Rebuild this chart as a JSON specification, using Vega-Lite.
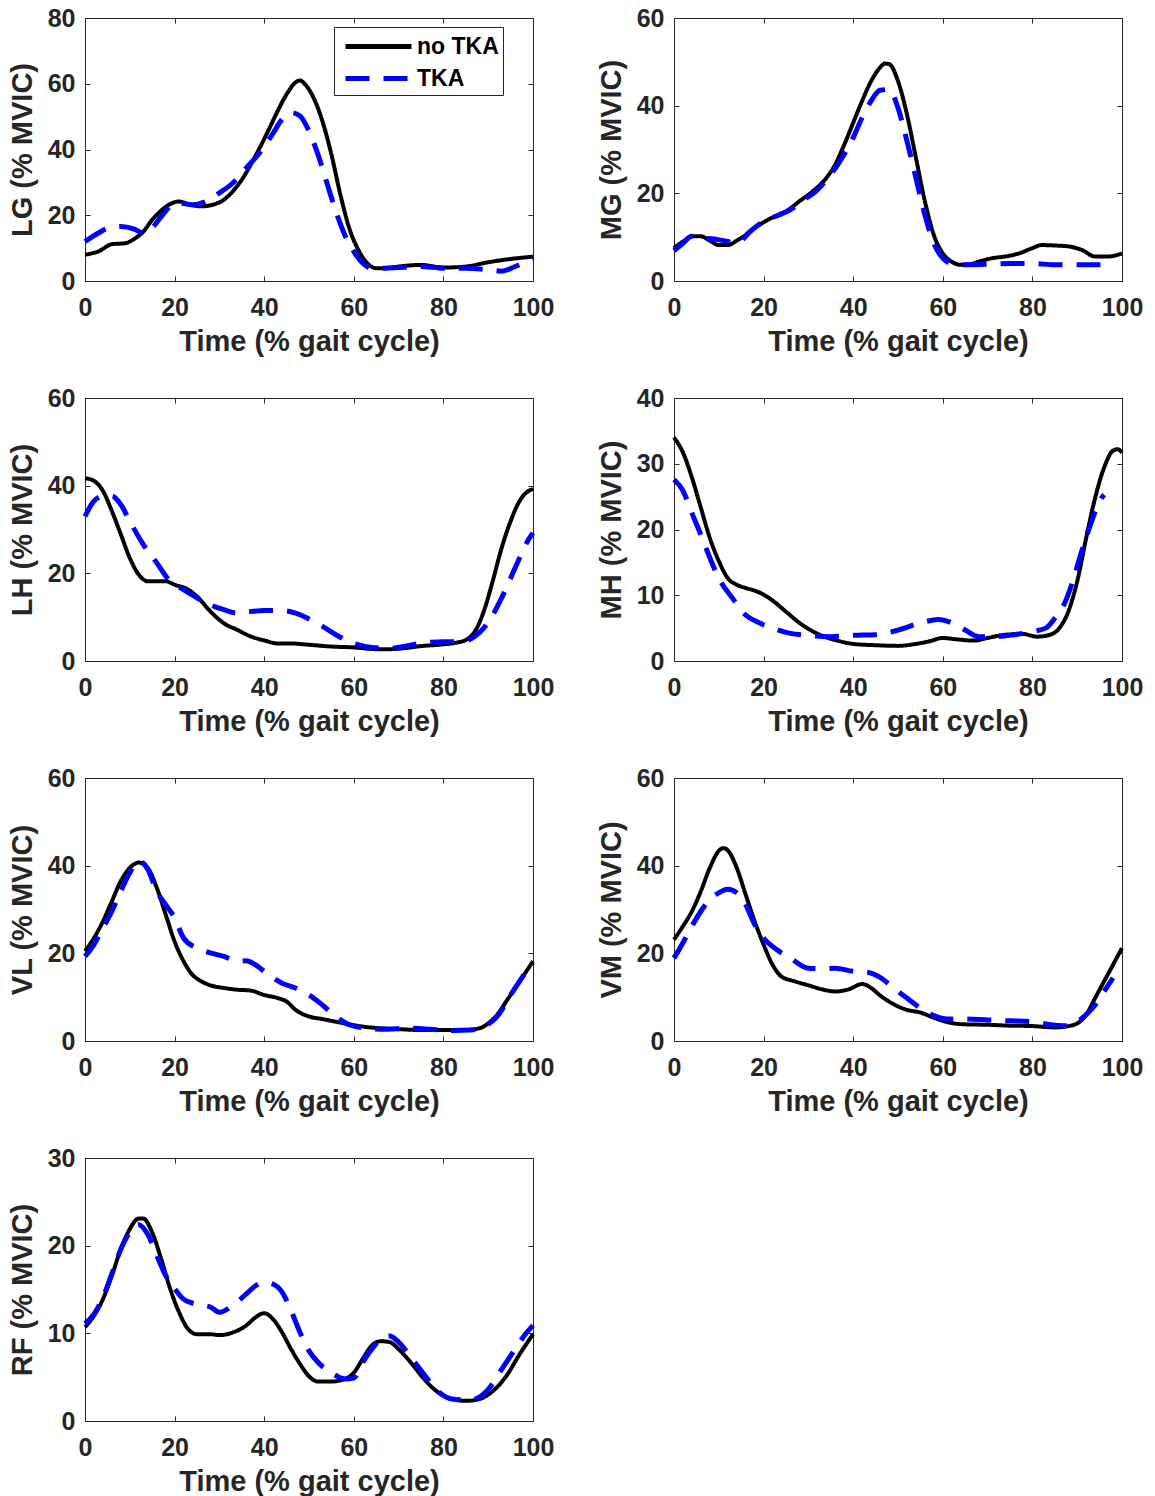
{
  "$schema": "https://vega.github.io/schema/vega-lite/v6.json",
  "background": "white",
  "padding": {"left": 7, "top": 5, "right": 5, "bottom": 2},
  "datasets": {
    "emg": [
      {"m":"LG","g":"no TKA","t":0,"v":8},{"m":"LG","g":"no TKA","t":3,"v":9},{"m":"LG","g":"no TKA","t":6,"v":11.2},{"m":"LG","g":"no TKA","t":9,"v":11.5},{"m":"LG","g":"no TKA","t":11,"v":12.8},{"m":"LG","g":"no TKA","t":13,"v":15},{"m":"LG","g":"no TKA","t":15,"v":18.6},{"m":"LG","g":"no TKA","t":17,"v":21.4},{"m":"LG","g":"no TKA","t":19,"v":23.4},{"m":"LG","g":"no TKA","t":21,"v":24.2},{"m":"LG","g":"no TKA","t":23,"v":23.4},{"m":"LG","g":"no TKA","t":26,"v":22.7},{"m":"LG","g":"no TKA","t":29,"v":23.4},{"m":"LG","g":"no TKA","t":31,"v":24.7},{"m":"LG","g":"no TKA","t":33,"v":27.3},{"m":"LG","g":"no TKA","t":35,"v":30.8},{"m":"LG","g":"no TKA","t":37,"v":35.4},{"m":"LG","g":"no TKA","t":39,"v":40.5},{"m":"LG","g":"no TKA","t":41,"v":46},{"m":"LG","g":"no TKA","t":43,"v":51.7},{"m":"LG","g":"no TKA","t":45,"v":56.8},{"m":"LG","g":"no TKA","t":47,"v":60.4},{"m":"LG","g":"no TKA","t":48,"v":61},{"m":"LG","g":"no TKA","t":49,"v":60},{"m":"LG","g":"no TKA","t":51,"v":55.8},{"m":"LG","g":"no TKA","t":53,"v":48.6},{"m":"LG","g":"no TKA","t":55,"v":38.5},{"m":"LG","g":"no TKA","t":57,"v":26.3},{"m":"LG","g":"no TKA","t":59,"v":16},{"m":"LG","g":"no TKA","t":61,"v":9.5},{"m":"LG","g":"no TKA","t":63,"v":5.4},{"m":"LG","g":"no TKA","t":65,"v":3.9},{"m":"LG","g":"no TKA","t":67,"v":3.9},{"m":"LG","g":"no TKA","t":70,"v":4.4},{"m":"LG","g":"no TKA","t":75,"v":4.9},{"m":"LG","g":"no TKA","t":80,"v":4.1},{"m":"LG","g":"no TKA","t":85,"v":4.4},{"m":"LG","g":"no TKA","t":90,"v":5.7},{"m":"LG","g":"no TKA","t":95,"v":6.7},{"m":"LG","g":"no TKA","t":100,"v":7.4},
      {"m":"LG","g":"TKA","t":0,"v":12},{"m":"LG","g":"TKA","t":3,"v":14.6},{"m":"LG","g":"TKA","t":5,"v":16},{"m":"LG","g":"TKA","t":8,"v":16.6},{"m":"LG","g":"TKA","t":11,"v":15.8},{"m":"LG","g":"TKA","t":13,"v":14.6},{"m":"LG","g":"TKA","t":15,"v":16.2},{"m":"LG","g":"TKA","t":17,"v":19.6},{"m":"LG","g":"TKA","t":19,"v":22.7},{"m":"LG","g":"TKA","t":21,"v":23.7},{"m":"LG","g":"TKA","t":24,"v":23.2},{"m":"LG","g":"TKA","t":27,"v":24.2},{"m":"LG","g":"TKA","t":30,"v":26.8},{"m":"LG","g":"TKA","t":33,"v":29.8},{"m":"LG","g":"TKA","t":36,"v":34.4},{"m":"LG","g":"TKA","t":39,"v":39},{"m":"LG","g":"TKA","t":42,"v":45},{"m":"LG","g":"TKA","t":44,"v":49.2},{"m":"LG","g":"TKA","t":46,"v":51.2},{"m":"LG","g":"TKA","t":48,"v":50.2},{"m":"LG","g":"TKA","t":50,"v":45.6},{"m":"LG","g":"TKA","t":52,"v":38.5},{"m":"LG","g":"TKA","t":54,"v":29.8},{"m":"LG","g":"TKA","t":56,"v":21.2},{"m":"LG","g":"TKA","t":58,"v":14},{"m":"LG","g":"TKA","t":60,"v":9},{"m":"LG","g":"TKA","t":62,"v":5.4},{"m":"LG","g":"TKA","t":64,"v":3.9},{"m":"LG","g":"TKA","t":67,"v":3.9},{"m":"LG","g":"TKA","t":70,"v":4.1},{"m":"LG","g":"TKA","t":75,"v":4.4},{"m":"LG","g":"TKA","t":80,"v":3.9},{"m":"LG","g":"TKA","t":85,"v":3.9},{"m":"LG","g":"TKA","t":90,"v":3.4},{"m":"LG","g":"TKA","t":93,"v":3},{"m":"LG","g":"TKA","t":96,"v":4.4},{"m":"LG","g":"TKA","t":100,"v":6.9},

      {"m":"MG","g":"no TKA","t":0,"v":7.5},{"m":"MG","g":"no TKA","t":2,"v":9},{"m":"MG","g":"no TKA","t":4,"v":10.2},{"m":"MG","g":"no TKA","t":6,"v":10.2},{"m":"MG","g":"no TKA","t":8,"v":9.2},{"m":"MG","g":"no TKA","t":10,"v":8.2},{"m":"MG","g":"no TKA","t":12,"v":8.2},{"m":"MG","g":"no TKA","t":14,"v":9.2},{"m":"MG","g":"no TKA","t":16,"v":10.5},{"m":"MG","g":"no TKA","t":18,"v":12.1},{"m":"MG","g":"no TKA","t":20,"v":13.4},{"m":"MG","g":"no TKA","t":22,"v":14.5},{"m":"MG","g":"no TKA","t":25,"v":15.9},{"m":"MG","g":"no TKA","t":28,"v":18.2},{"m":"MG","g":"no TKA","t":31,"v":20.5},{"m":"MG","g":"no TKA","t":34,"v":23.5},{"m":"MG","g":"no TKA","t":36,"v":26.6},{"m":"MG","g":"no TKA","t":38,"v":31.1},{"m":"MG","g":"no TKA","t":40,"v":36.1},{"m":"MG","g":"no TKA","t":42,"v":41.1},{"m":"MG","g":"no TKA","t":44,"v":45.6},{"m":"MG","g":"no TKA","t":46,"v":48.7},{"m":"MG","g":"no TKA","t":47,"v":49.6},{"m":"MG","g":"no TKA","t":48,"v":49.5},{"m":"MG","g":"no TKA","t":50,"v":45.6},{"m":"MG","g":"no TKA","t":52,"v":38},{"m":"MG","g":"no TKA","t":54,"v":28.1},{"m":"MG","g":"no TKA","t":56,"v":18.2},{"m":"MG","g":"no TKA","t":58,"v":10.5},{"m":"MG","g":"no TKA","t":60,"v":6.3},{"m":"MG","g":"no TKA","t":62,"v":4.4},{"m":"MG","g":"no TKA","t":64,"v":3.7},{"m":"MG","g":"no TKA","t":66,"v":3.8},{"m":"MG","g":"no TKA","t":68,"v":4.4},{"m":"MG","g":"no TKA","t":71,"v":5.2},{"m":"MG","g":"no TKA","t":74,"v":5.6},{"m":"MG","g":"no TKA","t":77,"v":6.3},{"m":"MG","g":"no TKA","t":80,"v":7.5},{"m":"MG","g":"no TKA","t":82,"v":8.2},{"m":"MG","g":"no TKA","t":85,"v":8.1},{"m":"MG","g":"no TKA","t":88,"v":7.9},{"m":"MG","g":"no TKA","t":91,"v":7.1},{"m":"MG","g":"no TKA","t":94,"v":5.6},{"m":"MG","g":"no TKA","t":97,"v":5.6},{"m":"MG","g":"no TKA","t":100,"v":6.3},
      {"m":"MG","g":"TKA","t":0,"v":6.9},{"m":"MG","g":"TKA","t":2,"v":8.6},{"m":"MG","g":"TKA","t":4,"v":10.2},{"m":"MG","g":"TKA","t":6,"v":9.8},{"m":"MG","g":"TKA","t":9,"v":9.6},{"m":"MG","g":"TKA","t":12,"v":9},{"m":"MG","g":"TKA","t":14,"v":8.6},{"m":"MG","g":"TKA","t":17,"v":11.3},{"m":"MG","g":"TKA","t":20,"v":13.6},{"m":"MG","g":"TKA","t":23,"v":14.9},{"m":"MG","g":"TKA","t":26,"v":16.3},{"m":"MG","g":"TKA","t":29,"v":18.5},{"m":"MG","g":"TKA","t":32,"v":20.8},{"m":"MG","g":"TKA","t":35,"v":24.3},{"m":"MG","g":"TKA","t":38,"v":28.9},{"m":"MG","g":"TKA","t":40,"v":32.7},{"m":"MG","g":"TKA","t":42,"v":37.3},{"m":"MG","g":"TKA","t":44,"v":41.1},{"m":"MG","g":"TKA","t":46,"v":43.5},{"m":"MG","g":"TKA","t":48,"v":43.7},{"m":"MG","g":"TKA","t":50,"v":39.5},{"m":"MG","g":"TKA","t":52,"v":31.9},{"m":"MG","g":"TKA","t":54,"v":23.5},{"m":"MG","g":"TKA","t":56,"v":15.1},{"m":"MG","g":"TKA","t":58,"v":8.6},{"m":"MG","g":"TKA","t":60,"v":5.2},{"m":"MG","g":"TKA","t":62,"v":4},{"m":"MG","g":"TKA","t":65,"v":3.7},{"m":"MG","g":"TKA","t":70,"v":3.8},{"m":"MG","g":"TKA","t":75,"v":4},{"m":"MG","g":"TKA","t":80,"v":4},{"m":"MG","g":"TKA","t":85,"v":3.7},{"m":"MG","g":"TKA","t":90,"v":3.7},{"m":"MG","g":"TKA","t":95,"v":3.7},{"m":"MG","g":"TKA","t":97,"v":4},

      {"m":"LH","g":"no TKA","t":0,"v":41.7},{"m":"LH","g":"no TKA","t":2,"v":41.1},{"m":"LH","g":"no TKA","t":4,"v":38.8},{"m":"LH","g":"no TKA","t":6,"v":34.2},{"m":"LH","g":"no TKA","t":8,"v":28.9},{"m":"LH","g":"no TKA","t":10,"v":23.5},{"m":"LH","g":"no TKA","t":12,"v":19.7},{"m":"LH","g":"no TKA","t":14,"v":18.2},{"m":"LH","g":"no TKA","t":16,"v":18.2},{"m":"LH","g":"no TKA","t":18,"v":18.2},{"m":"LH","g":"no TKA","t":20,"v":17.4},{"m":"LH","g":"no TKA","t":23,"v":16.3},{"m":"LH","g":"no TKA","t":25,"v":14.7},{"m":"LH","g":"no TKA","t":28,"v":11.3},{"m":"LH","g":"no TKA","t":31,"v":8.6},{"m":"LH","g":"no TKA","t":34,"v":7.1},{"m":"LH","g":"no TKA","t":37,"v":5.6},{"m":"LH","g":"no TKA","t":40,"v":4.7},{"m":"LH","g":"no TKA","t":43,"v":4},{"m":"LH","g":"no TKA","t":46,"v":4},{"m":"LH","g":"no TKA","t":50,"v":3.7},{"m":"LH","g":"no TKA","t":55,"v":3.3},{"m":"LH","g":"no TKA","t":60,"v":3.1},{"m":"LH","g":"no TKA","t":65,"v":2.7},{"m":"LH","g":"no TKA","t":68,"v":2.7},{"m":"LH","g":"no TKA","t":71,"v":2.9},{"m":"LH","g":"no TKA","t":75,"v":3.4},{"m":"LH","g":"no TKA","t":80,"v":3.8},{"m":"LH","g":"no TKA","t":83,"v":4.2},{"m":"LH","g":"no TKA","t":85,"v":4.8},{"m":"LH","g":"no TKA","t":87,"v":6.7},{"m":"LH","g":"no TKA","t":89,"v":11.3},{"m":"LH","g":"no TKA","t":91,"v":18.2},{"m":"LH","g":"no TKA","t":93,"v":25.8},{"m":"LH","g":"no TKA","t":95,"v":31.9},{"m":"LH","g":"no TKA","t":97,"v":36.5},{"m":"LH","g":"no TKA","t":99,"v":38.8},{"m":"LH","g":"no TKA","t":100,"v":39.2},
      {"m":"LH","g":"TKA","t":0,"v":33},{"m":"LH","g":"TKA","t":2,"v":36.5},{"m":"LH","g":"TKA","t":4,"v":37.6},{"m":"LH","g":"TKA","t":6,"v":37.6},{"m":"LH","g":"TKA","t":8,"v":35.7},{"m":"LH","g":"TKA","t":10,"v":31.9},{"m":"LH","g":"TKA","t":13,"v":26.6},{"m":"LH","g":"TKA","t":16,"v":22.4},{"m":"LH","g":"TKA","t":19,"v":18.2},{"m":"LH","g":"TKA","t":22,"v":16.3},{"m":"LH","g":"TKA","t":25,"v":14.4},{"m":"LH","g":"TKA","t":28,"v":12.8},{"m":"LH","g":"TKA","t":31,"v":11.7},{"m":"LH","g":"TKA","t":34,"v":10.9},{"m":"LH","g":"TKA","t":37,"v":11.3},{"m":"LH","g":"TKA","t":40,"v":11.5},{"m":"LH","g":"TKA","t":44,"v":11.5},{"m":"LH","g":"TKA","t":47,"v":10.9},{"m":"LH","g":"TKA","t":50,"v":9.6},{"m":"LH","g":"TKA","t":53,"v":7.9},{"m":"LH","g":"TKA","t":56,"v":6},{"m":"LH","g":"TKA","t":60,"v":4},{"m":"LH","g":"TKA","t":64,"v":3.1},{"m":"LH","g":"TKA","t":68,"v":2.9},{"m":"LH","g":"TKA","t":72,"v":3.5},{"m":"LH","g":"TKA","t":76,"v":4.2},{"m":"LH","g":"TKA","t":80,"v":4.4},{"m":"LH","g":"TKA","t":84,"v":4.4},{"m":"LH","g":"TKA","t":87,"v":5.6},{"m":"LH","g":"TKA","t":89,"v":7.5},{"m":"LH","g":"TKA","t":91,"v":10.5},{"m":"LH","g":"TKA","t":93,"v":14.4},{"m":"LH","g":"TKA","t":95,"v":18.9},{"m":"LH","g":"TKA","t":97,"v":23.5},{"m":"LH","g":"TKA","t":99,"v":27.7},{"m":"LH","g":"TKA","t":100,"v":29.2},

      {"m":"MH","g":"no TKA","t":0,"v":34},{"m":"MH","g":"no TKA","t":2,"v":31.7},{"m":"MH","g":"no TKA","t":4,"v":27.9},{"m":"MH","g":"no TKA","t":6,"v":23.3},{"m":"MH","g":"no TKA","t":8,"v":18.7},{"m":"MH","g":"no TKA","t":10,"v":15.2},{"m":"MH","g":"no TKA","t":12,"v":12.6},{"m":"MH","g":"no TKA","t":14,"v":11.6},{"m":"MH","g":"no TKA","t":16,"v":11.1},{"m":"MH","g":"no TKA","t":18,"v":10.7},{"m":"MH","g":"no TKA","t":20,"v":10.1},{"m":"MH","g":"no TKA","t":22,"v":9.2},{"m":"MH","g":"no TKA","t":25,"v":7.5},{"m":"MH","g":"no TKA","t":28,"v":5.8},{"m":"MH","g":"no TKA","t":31,"v":4.5},{"m":"MH","g":"no TKA","t":34,"v":3.6},{"m":"MH","g":"no TKA","t":37,"v":3},{"m":"MH","g":"no TKA","t":40,"v":2.6},{"m":"MH","g":"no TKA","t":45,"v":2.4},{"m":"MH","g":"no TKA","t":50,"v":2.3},{"m":"MH","g":"no TKA","t":54,"v":2.6},{"m":"MH","g":"no TKA","t":57,"v":3},{"m":"MH","g":"no TKA","t":60,"v":3.5},{"m":"MH","g":"no TKA","t":63,"v":3.3},{"m":"MH","g":"no TKA","t":67,"v":3.1},{"m":"MH","g":"no TKA","t":70,"v":3.5},{"m":"MH","g":"no TKA","t":74,"v":4},{"m":"MH","g":"no TKA","t":78,"v":4.1},{"m":"MH","g":"no TKA","t":81,"v":3.7},{"m":"MH","g":"no TKA","t":84,"v":4},{"m":"MH","g":"no TKA","t":86,"v":5},{"m":"MH","g":"no TKA","t":88,"v":7.5},{"m":"MH","g":"no TKA","t":90,"v":12.1},{"m":"MH","g":"no TKA","t":92,"v":18.7},{"m":"MH","g":"no TKA","t":94,"v":24.8},{"m":"MH","g":"no TKA","t":96,"v":29.4},{"m":"MH","g":"no TKA","t":98,"v":32},{"m":"MH","g":"no TKA","t":99,"v":32.2},{"m":"MH","g":"no TKA","t":100,"v":31.7},
      {"m":"MH","g":"TKA","t":0,"v":27.6},{"m":"MH","g":"TKA","t":2,"v":25.9},{"m":"MH","g":"TKA","t":4,"v":22.5},{"m":"MH","g":"TKA","t":6,"v":19.2},{"m":"MH","g":"TKA","t":8,"v":15.7},{"m":"MH","g":"TKA","t":10,"v":12.6},{"m":"MH","g":"TKA","t":13,"v":9.6},{"m":"MH","g":"TKA","t":16,"v":7},{"m":"MH","g":"TKA","t":19,"v":5.8},{"m":"MH","g":"TKA","t":22,"v":5},{"m":"MH","g":"TKA","t":26,"v":4.2},{"m":"MH","g":"TKA","t":30,"v":3.9},{"m":"MH","g":"TKA","t":35,"v":3.7},{"m":"MH","g":"TKA","t":40,"v":3.9},{"m":"MH","g":"TKA","t":45,"v":4},{"m":"MH","g":"TKA","t":50,"v":4.7},{"m":"MH","g":"TKA","t":55,"v":5.8},{"m":"MH","g":"TKA","t":59,"v":6.3},{"m":"MH","g":"TKA","t":62,"v":5.8},{"m":"MH","g":"TKA","t":65,"v":4.7},{"m":"MH","g":"TKA","t":68,"v":3.7},{"m":"MH","g":"TKA","t":72,"v":3.7},{"m":"MH","g":"TKA","t":76,"v":4},{"m":"MH","g":"TKA","t":80,"v":4.5},{"m":"MH","g":"TKA","t":83,"v":5},{"m":"MH","g":"TKA","t":85,"v":6.5},{"m":"MH","g":"TKA","t":87,"v":8.5},{"m":"MH","g":"TKA","t":89,"v":12.1},{"m":"MH","g":"TKA","t":91,"v":16.7},{"m":"MH","g":"TKA","t":93,"v":20.8},{"m":"MH","g":"TKA","t":95,"v":24.3},{"m":"MH","g":"TKA","t":96,"v":25.3},

      {"m":"VL","g":"no TKA","t":0,"v":20.5},{"m":"VL","g":"no TKA","t":2,"v":23.5},{"m":"VL","g":"no TKA","t":4,"v":27.3},{"m":"VL","g":"no TKA","t":6,"v":31.9},{"m":"VL","g":"no TKA","t":8,"v":36.5},{"m":"VL","g":"no TKA","t":10,"v":39.5},{"m":"VL","g":"no TKA","t":12,"v":40.7},{"m":"VL","g":"no TKA","t":14,"v":39.5},{"m":"VL","g":"no TKA","t":16,"v":35},{"m":"VL","g":"no TKA","t":18,"v":28.9},{"m":"VL","g":"no TKA","t":20,"v":22.7},{"m":"VL","g":"no TKA","t":22,"v":18.2},{"m":"VL","g":"no TKA","t":24,"v":15.1},{"m":"VL","g":"no TKA","t":26,"v":13.6},{"m":"VL","g":"no TKA","t":28,"v":12.7},{"m":"VL","g":"no TKA","t":31,"v":12.1},{"m":"VL","g":"no TKA","t":34,"v":11.7},{"m":"VL","g":"no TKA","t":37,"v":11.5},{"m":"VL","g":"no TKA","t":40,"v":10.5},{"m":"VL","g":"no TKA","t":43,"v":9.8},{"m":"VL","g":"no TKA","t":45,"v":9},{"m":"VL","g":"no TKA","t":47,"v":7.1},{"m":"VL","g":"no TKA","t":50,"v":5.6},{"m":"VL","g":"no TKA","t":53,"v":5},{"m":"VL","g":"no TKA","t":56,"v":4.4},{"m":"VL","g":"no TKA","t":59,"v":3.8},{"m":"VL","g":"no TKA","t":62,"v":3.3},{"m":"VL","g":"no TKA","t":66,"v":2.9},{"m":"VL","g":"no TKA","t":70,"v":2.7},{"m":"VL","g":"no TKA","t":75,"v":2.5},{"m":"VL","g":"no TKA","t":80,"v":2.5},{"m":"VL","g":"no TKA","t":85,"v":2.5},{"m":"VL","g":"no TKA","t":88,"v":2.9},{"m":"VL","g":"no TKA","t":90,"v":4},{"m":"VL","g":"no TKA","t":92,"v":6},{"m":"VL","g":"no TKA","t":94,"v":9},{"m":"VL","g":"no TKA","t":96,"v":12.1},{"m":"VL","g":"no TKA","t":98,"v":15.1},{"m":"VL","g":"no TKA","t":100,"v":18.2},
      {"m":"VL","g":"TKA","t":0,"v":19.3},{"m":"VL","g":"TKA","t":2,"v":22},{"m":"VL","g":"TKA","t":4,"v":25.8},{"m":"VL","g":"TKA","t":6,"v":29.6},{"m":"VL","g":"TKA","t":8,"v":34.2},{"m":"VL","g":"TKA","t":10,"v":38.4},{"m":"VL","g":"TKA","t":12,"v":41.1},{"m":"VL","g":"TKA","t":14,"v":39.2},{"m":"VL","g":"TKA","t":16,"v":34.2},{"m":"VL","g":"TKA","t":18,"v":31.1},{"m":"VL","g":"TKA","t":20,"v":28.1},{"m":"VL","g":"TKA","t":22,"v":23.5},{"m":"VL","g":"TKA","t":25,"v":21.2},{"m":"VL","g":"TKA","t":28,"v":20.1},{"m":"VL","g":"TKA","t":31,"v":19.3},{"m":"VL","g":"TKA","t":34,"v":18.2},{"m":"VL","g":"TKA","t":36,"v":18.3},{"m":"VL","g":"TKA","t":38,"v":17.4},{"m":"VL","g":"TKA","t":41,"v":15.1},{"m":"VL","g":"TKA","t":44,"v":13.2},{"m":"VL","g":"TKA","t":47,"v":12.1},{"m":"VL","g":"TKA","t":50,"v":10.5},{"m":"VL","g":"TKA","t":53,"v":8.2},{"m":"VL","g":"TKA","t":56,"v":5.6},{"m":"VL","g":"TKA","t":59,"v":3.7},{"m":"VL","g":"TKA","t":63,"v":2.9},{"m":"VL","g":"TKA","t":67,"v":2.7},{"m":"VL","g":"TKA","t":72,"v":2.9},{"m":"VL","g":"TKA","t":77,"v":2.7},{"m":"VL","g":"TKA","t":82,"v":2.4},{"m":"VL","g":"TKA","t":86,"v":2.5},{"m":"VL","g":"TKA","t":89,"v":3.3},{"m":"VL","g":"TKA","t":92,"v":5.6},{"m":"VL","g":"TKA","t":95,"v":10.5},{"m":"VL","g":"TKA","t":98,"v":15.1},{"m":"VL","g":"TKA","t":100,"v":17.8},

      {"m":"VM","g":"no TKA","t":0,"v":23.1},{"m":"VM","g":"no TKA","t":2,"v":26.2},{"m":"VM","g":"no TKA","t":4,"v":29.6},{"m":"VM","g":"no TKA","t":6,"v":34.2},{"m":"VM","g":"no TKA","t":8,"v":39.5},{"m":"VM","g":"no TKA","t":10,"v":43.4},{"m":"VM","g":"no TKA","t":11,"v":44},{"m":"VM","g":"no TKA","t":12,"v":43.5},{"m":"VM","g":"no TKA","t":14,"v":39.5},{"m":"VM","g":"no TKA","t":16,"v":33.4},{"m":"VM","g":"no TKA","t":18,"v":27.3},{"m":"VM","g":"no TKA","t":20,"v":22},{"m":"VM","g":"no TKA","t":22,"v":17.4},{"m":"VM","g":"no TKA","t":24,"v":14.7},{"m":"VM","g":"no TKA","t":27,"v":13.6},{"m":"VM","g":"no TKA","t":30,"v":12.7},{"m":"VM","g":"no TKA","t":33,"v":11.8},{"m":"VM","g":"no TKA","t":36,"v":11.3},{"m":"VM","g":"no TKA","t":39,"v":11.8},{"m":"VM","g":"no TKA","t":42,"v":13},{"m":"VM","g":"no TKA","t":44,"v":12.1},{"m":"VM","g":"no TKA","t":46,"v":10.4},{"m":"VM","g":"no TKA","t":49,"v":8.4},{"m":"VM","g":"no TKA","t":52,"v":7.1},{"m":"VM","g":"no TKA","t":55,"v":6.5},{"m":"VM","g":"no TKA","t":58,"v":5.3},{"m":"VM","g":"no TKA","t":61,"v":4.3},{"m":"VM","g":"no TKA","t":65,"v":3.8},{"m":"VM","g":"no TKA","t":70,"v":3.7},{"m":"VM","g":"no TKA","t":75,"v":3.5},{"m":"VM","g":"no TKA","t":80,"v":3.4},{"m":"VM","g":"no TKA","t":85,"v":3.1},{"m":"VM","g":"no TKA","t":88,"v":3.4},{"m":"VM","g":"no TKA","t":90,"v":4},{"m":"VM","g":"no TKA","t":92,"v":6},{"m":"VM","g":"no TKA","t":94,"v":9.8},{"m":"VM","g":"no TKA","t":96,"v":13.6},{"m":"VM","g":"no TKA","t":98,"v":17.4},{"m":"VM","g":"no TKA","t":100,"v":21.2},
      {"m":"VM","g":"TKA","t":0,"v":18.9},{"m":"VM","g":"TKA","t":2,"v":22.4},{"m":"VM","g":"TKA","t":4,"v":26.2},{"m":"VM","g":"TKA","t":6,"v":29.6},{"m":"VM","g":"TKA","t":8,"v":32.3},{"m":"VM","g":"TKA","t":10,"v":33.8},{"m":"VM","g":"TKA","t":12,"v":34.6},{"m":"VM","g":"TKA","t":14,"v":33.8},{"m":"VM","g":"TKA","t":16,"v":31.1},{"m":"VM","g":"TKA","t":18,"v":26.6},{"m":"VM","g":"TKA","t":20,"v":23.5},{"m":"VM","g":"TKA","t":23,"v":20.8},{"m":"VM","g":"TKA","t":26,"v":18.9},{"m":"VM","g":"TKA","t":30,"v":16.6},{"m":"VM","g":"TKA","t":33,"v":16.5},{"m":"VM","g":"TKA","t":36,"v":16.6},{"m":"VM","g":"TKA","t":40,"v":15.9},{"m":"VM","g":"TKA","t":43,"v":15.7},{"m":"VM","g":"TKA","t":46,"v":14.5},{"m":"VM","g":"TKA","t":49,"v":12.1},{"m":"VM","g":"TKA","t":52,"v":9.8},{"m":"VM","g":"TKA","t":55,"v":7.5},{"m":"VM","g":"TKA","t":58,"v":5.8},{"m":"VM","g":"TKA","t":61,"v":5},{"m":"VM","g":"TKA","t":65,"v":5},{"m":"VM","g":"TKA","t":70,"v":4.8},{"m":"VM","g":"TKA","t":75,"v":4.6},{"m":"VM","g":"TKA","t":80,"v":4.4},{"m":"VM","g":"TKA","t":84,"v":3.7},{"m":"VM","g":"TKA","t":87,"v":3.5},{"m":"VM","g":"TKA","t":90,"v":4.4},{"m":"VM","g":"TKA","t":92,"v":6},{"m":"VM","g":"TKA","t":94,"v":8.2},{"m":"VM","g":"TKA","t":96,"v":11.3},{"m":"VM","g":"TKA","t":98,"v":14.4},

      {"m":"RF","g":"no TKA","t":0,"v":10.7},{"m":"RF","g":"no TKA","t":2,"v":12},{"m":"RF","g":"no TKA","t":4,"v":13.9},{"m":"RF","g":"no TKA","t":6,"v":16.6},{"m":"RF","g":"no TKA","t":8,"v":19.6},{"m":"RF","g":"no TKA","t":10,"v":21.9},{"m":"RF","g":"no TKA","t":12,"v":23.1},{"m":"RF","g":"no TKA","t":13,"v":23.1},{"m":"RF","g":"no TKA","t":15,"v":21.5},{"m":"RF","g":"no TKA","t":17,"v":18.5},{"m":"RF","g":"no TKA","t":19,"v":15.1},{"m":"RF","g":"no TKA","t":21,"v":12.4},{"m":"RF","g":"no TKA","t":23,"v":10.5},{"m":"RF","g":"no TKA","t":25,"v":9.9},{"m":"RF","g":"no TKA","t":28,"v":9.9},{"m":"RF","g":"no TKA","t":30,"v":9.8},{"m":"RF","g":"no TKA","t":33,"v":10.1},{"m":"RF","g":"no TKA","t":36,"v":10.9},{"m":"RF","g":"no TKA","t":38,"v":11.8},{"m":"RF","g":"no TKA","t":40,"v":12.3},{"m":"RF","g":"no TKA","t":42,"v":11.6},{"m":"RF","g":"no TKA","t":44,"v":10.1},{"m":"RF","g":"no TKA","t":46,"v":8.2},{"m":"RF","g":"no TKA","t":48,"v":6.5},{"m":"RF","g":"no TKA","t":50,"v":5.1},{"m":"RF","g":"no TKA","t":52,"v":4.5},{"m":"RF","g":"no TKA","t":55,"v":4.5},{"m":"RF","g":"no TKA","t":58,"v":4.8},{"m":"RF","g":"no TKA","t":60,"v":5.5},{"m":"RF","g":"no TKA","t":62,"v":7.1},{"m":"RF","g":"no TKA","t":64,"v":8.6},{"m":"RF","g":"no TKA","t":66,"v":9.1},{"m":"RF","g":"no TKA","t":68,"v":9},{"m":"RF","g":"no TKA","t":70,"v":8.2},{"m":"RF","g":"no TKA","t":73,"v":6.5},{"m":"RF","g":"no TKA","t":76,"v":4.6},{"m":"RF","g":"no TKA","t":79,"v":3.2},{"m":"RF","g":"no TKA","t":82,"v":2.5},{"m":"RF","g":"no TKA","t":85,"v":2.3},{"m":"RF","g":"no TKA","t":88,"v":2.5},{"m":"RF","g":"no TKA","t":91,"v":3.4},{"m":"RF","g":"no TKA","t":94,"v":5.1},{"m":"RF","g":"no TKA","t":97,"v":7.6},{"m":"RF","g":"no TKA","t":100,"v":9.9},
      {"m":"RF","g":"TKA","t":0,"v":11.1},{"m":"RF","g":"TKA","t":2,"v":12.2},{"m":"RF","g":"TKA","t":4,"v":14.1},{"m":"RF","g":"TKA","t":6,"v":16.8},{"m":"RF","g":"TKA","t":8,"v":19.6},{"m":"RF","g":"TKA","t":10,"v":21.5},{"m":"RF","g":"TKA","t":12,"v":22.4},{"m":"RF","g":"TKA","t":14,"v":21.3},{"m":"RF","g":"TKA","t":16,"v":18.9},{"m":"RF","g":"TKA","t":18,"v":16.6},{"m":"RF","g":"TKA","t":20,"v":15.1},{"m":"RF","g":"TKA","t":22,"v":13.9},{"m":"RF","g":"TKA","t":25,"v":13.3},{"m":"RF","g":"TKA","t":28,"v":13},{"m":"RF","g":"TKA","t":30,"v":12.4},{"m":"RF","g":"TKA","t":33,"v":13.2},{"m":"RF","g":"TKA","t":36,"v":14.5},{"m":"RF","g":"TKA","t":38,"v":15.4},{"m":"RF","g":"TKA","t":40,"v":15.8},{"m":"RF","g":"TKA","t":42,"v":15.6},{"m":"RF","g":"TKA","t":44,"v":14.7},{"m":"RF","g":"TKA","t":46,"v":12.6},{"m":"RF","g":"TKA","t":48,"v":10.1},{"m":"RF","g":"TKA","t":50,"v":8},{"m":"RF","g":"TKA","t":52,"v":6.7},{"m":"RF","g":"TKA","t":55,"v":5.5},{"m":"RF","g":"TKA","t":58,"v":4.8},{"m":"RF","g":"TKA","t":60,"v":4.9},{"m":"RF","g":"TKA","t":62,"v":6.7},{"m":"RF","g":"TKA","t":64,"v":8.2},{"m":"RF","g":"TKA","t":66,"v":9.3},{"m":"RF","g":"TKA","t":68,"v":9.7},{"m":"RF","g":"TKA","t":70,"v":9},{"m":"RF","g":"TKA","t":73,"v":7.1},{"m":"RF","g":"TKA","t":76,"v":5.1},{"m":"RF","g":"TKA","t":79,"v":3.3},{"m":"RF","g":"TKA","t":82,"v":2.5},{"m":"RF","g":"TKA","t":85,"v":2.4},{"m":"RF","g":"TKA","t":87,"v":2.5},{"m":"RF","g":"TKA","t":90,"v":3.6},{"m":"RF","g":"TKA","t":93,"v":5.9},{"m":"RF","g":"TKA","t":96,"v":8.2},{"m":"RF","g":"TKA","t":98,"v":9.7},{"m":"RF","g":"TKA","t":100,"v":10.9}
    ]
  },
  "data": {"name": "emg"},
  "columns": 2,
  "spacing": {"row": 28, "column": 41},
  "resolve": {
    "scale": {"color": "independent", "strokeDash": "independent"},
    "legend": {"color": "independent", "strokeDash": "independent"}
  },
  "concat": [
    {
      "width": 448, "height": 263,
      "transform": [{"filter": "datum.m === 'LG'"}],
      "layer": [
        {
          "layer": [
            {"transform": [{"filter": "datum.g === 'no TKA'"}], "mark": {"type": "line", "interpolate": "monotone", "strokeWidth": 4}},
            {"transform": [{"filter": "datum.g === 'TKA'"}], "mark": {"type": "line", "interpolate": "monotone", "strokeWidth": 5}}
          ],
          "encoding": {
            "x": {"field": "t", "type": "quantitative", "scale": {"domain": [0, 100], "nice": false}, "axis": {"values": [0, 20, 40, 60, 80, 100], "title": "Time (% gait cycle)"}},
            "y": {"field": "v", "type": "quantitative", "scale": {"domain": [0, 80], "nice": false}, "axis": {"values": [0, 20, 40, 60, 80], "title": "LG (% MVIC)"}},
            "color": {"field": "g", "type": "nominal", "scale": {"domain": ["no TKA", "TKA"], "range": ["#000000", "#0000ff"]},
              "legend": {"title": null, "orient": "none", "legendX": 249, "legendY": 9, "direction": "vertical"}},
            "strokeDash": {"field": "g", "type": "nominal", "scale": {"domain": ["no TKA", "TKA"], "range": [[1, 0], [24, 14]]},
              "legend": {"title": null, "orient": "none", "legendX": 249, "legendY": 9, "direction": "vertical"}}
          }
        },
        {
          "mark": {"type": "line", "opacity": 0},
          "encoding": {
            "x": {"field": "t", "type": "quantitative", "scale": {"domain": [0, 100], "nice": false}, "axis": {"orient": "top", "values": [0, 20, 40, 60, 80, 100], "labels": false, "title": null}},
            "y": {"field": "v", "type": "quantitative", "scale": {"domain": [0, 80], "nice": false}, "axis": {"orient": "right", "values": [0, 20, 40, 60, 80], "labels": false, "title": null}}
          }
        }
      ],
      "resolve": {"scale": {"x": "independent", "y": "independent"}}
    },
    {
      "width": 448, "height": 263,
      "transform": [{"filter": "datum.m === 'MG'"}],
      "layer": [
        {
          "layer": [
            {"transform": [{"filter": "datum.g === 'no TKA'"}], "mark": {"type": "line", "interpolate": "monotone", "strokeWidth": 4}},
            {"transform": [{"filter": "datum.g === 'TKA'"}], "mark": {"type": "line", "interpolate": "monotone", "strokeWidth": 5}}
          ],
          "encoding": {
            "x": {"field": "t", "type": "quantitative", "scale": {"domain": [0, 100], "nice": false}, "axis": {"values": [0, 20, 40, 60, 80, 100], "title": "Time (% gait cycle)"}},
            "y": {"field": "v", "type": "quantitative", "scale": {"domain": [0, 60], "nice": false}, "axis": {"values": [0, 20, 40, 60], "title": "MG (% MVIC)"}},
            "color": {"field": "g", "type": "nominal", "scale": {"domain": ["no TKA", "TKA"], "range": ["#000000", "#0000ff"]}, "legend": null},
            "strokeDash": {"field": "g", "type": "nominal", "scale": {"domain": ["no TKA", "TKA"], "range": [[1, 0], [24, 14]]}, "legend": null}
          }
        },
        {
          "mark": {"type": "line", "opacity": 0},
          "encoding": {
            "x": {"field": "t", "type": "quantitative", "scale": {"domain": [0, 100], "nice": false}, "axis": {"orient": "top", "values": [0, 20, 40, 60, 80, 100], "labels": false, "title": null}},
            "y": {"field": "v", "type": "quantitative", "scale": {"domain": [0, 60], "nice": false}, "axis": {"orient": "right", "values": [0, 20, 40, 60], "labels": false, "title": null}}
          }
        }
      ],
      "resolve": {"scale": {"x": "independent", "y": "independent"}}
    },
    {
      "width": 448, "height": 263,
      "transform": [{"filter": "datum.m === 'LH'"}],
      "layer": [
        {
          "layer": [
            {"transform": [{"filter": "datum.g === 'no TKA'"}], "mark": {"type": "line", "interpolate": "monotone", "strokeWidth": 4}},
            {"transform": [{"filter": "datum.g === 'TKA'"}], "mark": {"type": "line", "interpolate": "monotone", "strokeWidth": 5}}
          ],
          "encoding": {
            "x": {"field": "t", "type": "quantitative", "scale": {"domain": [0, 100], "nice": false}, "axis": {"values": [0, 20, 40, 60, 80, 100], "title": "Time (% gait cycle)"}},
            "y": {"field": "v", "type": "quantitative", "scale": {"domain": [0, 60], "nice": false}, "axis": {"values": [0, 20, 40, 60], "title": "LH (% MVIC)"}},
            "color": {"field": "g", "type": "nominal", "scale": {"domain": ["no TKA", "TKA"], "range": ["#000000", "#0000ff"]}, "legend": null},
            "strokeDash": {"field": "g", "type": "nominal", "scale": {"domain": ["no TKA", "TKA"], "range": [[1, 0], [24, 14]]}, "legend": null}
          }
        },
        {
          "mark": {"type": "line", "opacity": 0},
          "encoding": {
            "x": {"field": "t", "type": "quantitative", "scale": {"domain": [0, 100], "nice": false}, "axis": {"orient": "top", "values": [0, 20, 40, 60, 80, 100], "labels": false, "title": null}},
            "y": {"field": "v", "type": "quantitative", "scale": {"domain": [0, 60], "nice": false}, "axis": {"orient": "right", "values": [0, 20, 40, 60], "labels": false, "title": null}}
          }
        }
      ],
      "resolve": {"scale": {"x": "independent", "y": "independent"}}
    },
    {
      "width": 448, "height": 263,
      "transform": [{"filter": "datum.m === 'MH'"}],
      "layer": [
        {
          "layer": [
            {"transform": [{"filter": "datum.g === 'no TKA'"}], "mark": {"type": "line", "interpolate": "monotone", "strokeWidth": 4}},
            {"transform": [{"filter": "datum.g === 'TKA'"}], "mark": {"type": "line", "interpolate": "monotone", "strokeWidth": 5}}
          ],
          "encoding": {
            "x": {"field": "t", "type": "quantitative", "scale": {"domain": [0, 100], "nice": false}, "axis": {"values": [0, 20, 40, 60, 80, 100], "title": "Time (% gait cycle)"}},
            "y": {"field": "v", "type": "quantitative", "scale": {"domain": [0, 40], "nice": false}, "axis": {"values": [0, 10, 20, 30, 40], "title": "MH (% MVIC)"}},
            "color": {"field": "g", "type": "nominal", "scale": {"domain": ["no TKA", "TKA"], "range": ["#000000", "#0000ff"]}, "legend": null},
            "strokeDash": {"field": "g", "type": "nominal", "scale": {"domain": ["no TKA", "TKA"], "range": [[1, 0], [24, 14]]}, "legend": null}
          }
        },
        {
          "mark": {"type": "line", "opacity": 0},
          "encoding": {
            "x": {"field": "t", "type": "quantitative", "scale": {"domain": [0, 100], "nice": false}, "axis": {"orient": "top", "values": [0, 20, 40, 60, 80, 100], "labels": false, "title": null}},
            "y": {"field": "v", "type": "quantitative", "scale": {"domain": [0, 40], "nice": false}, "axis": {"orient": "right", "values": [0, 10, 20, 30, 40], "labels": false, "title": null}}
          }
        }
      ],
      "resolve": {"scale": {"x": "independent", "y": "independent"}}
    },
    {
      "width": 448, "height": 263,
      "transform": [{"filter": "datum.m === 'VL'"}],
      "layer": [
        {
          "layer": [
            {"transform": [{"filter": "datum.g === 'no TKA'"}], "mark": {"type": "line", "interpolate": "monotone", "strokeWidth": 4}},
            {"transform": [{"filter": "datum.g === 'TKA'"}], "mark": {"type": "line", "interpolate": "monotone", "strokeWidth": 5}}
          ],
          "encoding": {
            "x": {"field": "t", "type": "quantitative", "scale": {"domain": [0, 100], "nice": false}, "axis": {"values": [0, 20, 40, 60, 80, 100], "title": "Time (% gait cycle)"}},
            "y": {"field": "v", "type": "quantitative", "scale": {"domain": [0, 60], "nice": false}, "axis": {"values": [0, 20, 40, 60], "title": "VL (% MVIC)"}},
            "color": {"field": "g", "type": "nominal", "scale": {"domain": ["no TKA", "TKA"], "range": ["#000000", "#0000ff"]}, "legend": null},
            "strokeDash": {"field": "g", "type": "nominal", "scale": {"domain": ["no TKA", "TKA"], "range": [[1, 0], [24, 14]]}, "legend": null}
          }
        },
        {
          "mark": {"type": "line", "opacity": 0},
          "encoding": {
            "x": {"field": "t", "type": "quantitative", "scale": {"domain": [0, 100], "nice": false}, "axis": {"orient": "top", "values": [0, 20, 40, 60, 80, 100], "labels": false, "title": null}},
            "y": {"field": "v", "type": "quantitative", "scale": {"domain": [0, 60], "nice": false}, "axis": {"orient": "right", "values": [0, 20, 40, 60], "labels": false, "title": null}}
          }
        }
      ],
      "resolve": {"scale": {"x": "independent", "y": "independent"}}
    },
    {
      "width": 448, "height": 263,
      "transform": [{"filter": "datum.m === 'VM'"}],
      "layer": [
        {
          "layer": [
            {"transform": [{"filter": "datum.g === 'no TKA'"}], "mark": {"type": "line", "interpolate": "monotone", "strokeWidth": 4}},
            {"transform": [{"filter": "datum.g === 'TKA'"}], "mark": {"type": "line", "interpolate": "monotone", "strokeWidth": 5}}
          ],
          "encoding": {
            "x": {"field": "t", "type": "quantitative", "scale": {"domain": [0, 100], "nice": false}, "axis": {"values": [0, 20, 40, 60, 80, 100], "title": "Time (% gait cycle)"}},
            "y": {"field": "v", "type": "quantitative", "scale": {"domain": [0, 60], "nice": false}, "axis": {"values": [0, 20, 40, 60], "title": "VM (% MVIC)"}},
            "color": {"field": "g", "type": "nominal", "scale": {"domain": ["no TKA", "TKA"], "range": ["#000000", "#0000ff"]}, "legend": null},
            "strokeDash": {"field": "g", "type": "nominal", "scale": {"domain": ["no TKA", "TKA"], "range": [[1, 0], [24, 14]]}, "legend": null}
          }
        },
        {
          "mark": {"type": "line", "opacity": 0},
          "encoding": {
            "x": {"field": "t", "type": "quantitative", "scale": {"domain": [0, 100], "nice": false}, "axis": {"orient": "top", "values": [0, 20, 40, 60, 80, 100], "labels": false, "title": null}},
            "y": {"field": "v", "type": "quantitative", "scale": {"domain": [0, 60], "nice": false}, "axis": {"orient": "right", "values": [0, 20, 40, 60], "labels": false, "title": null}}
          }
        }
      ],
      "resolve": {"scale": {"x": "independent", "y": "independent"}}
    },
    {
      "width": 448, "height": 263,
      "transform": [{"filter": "datum.m === 'RF'"}],
      "layer": [
        {
          "layer": [
            {"transform": [{"filter": "datum.g === 'no TKA'"}], "mark": {"type": "line", "interpolate": "monotone", "strokeWidth": 4}},
            {"transform": [{"filter": "datum.g === 'TKA'"}], "mark": {"type": "line", "interpolate": "monotone", "strokeWidth": 5}}
          ],
          "encoding": {
            "x": {"field": "t", "type": "quantitative", "scale": {"domain": [0, 100], "nice": false}, "axis": {"values": [0, 20, 40, 60, 80, 100], "title": "Time (% gait cycle)"}},
            "y": {"field": "v", "type": "quantitative", "scale": {"domain": [0, 30], "nice": false}, "axis": {"values": [0, 10, 20, 30], "title": "RF (% MVIC)"}},
            "color": {"field": "g", "type": "nominal", "scale": {"domain": ["no TKA", "TKA"], "range": ["#000000", "#0000ff"]}, "legend": null},
            "strokeDash": {"field": "g", "type": "nominal", "scale": {"domain": ["no TKA", "TKA"], "range": [[1, 0], [24, 14]]}, "legend": null}
          }
        },
        {
          "mark": {"type": "line", "opacity": 0},
          "encoding": {
            "x": {"field": "t", "type": "quantitative", "scale": {"domain": [0, 100], "nice": false}, "axis": {"orient": "top", "values": [0, 20, 40, 60, 80, 100], "labels": false, "title": null}},
            "y": {"field": "v", "type": "quantitative", "scale": {"domain": [0, 30], "nice": false}, "axis": {"orient": "right", "values": [0, 10, 20, 30], "labels": false, "title": null}}
          }
        }
      ],
      "resolve": {"scale": {"x": "independent", "y": "independent"}}
    }
  ],
  "config": {
    "view": {"stroke": "#262626", "strokeWidth": 1},
    "axis": {
      "grid": false, "domain": false,
      "labelFont": "Liberation Sans", "labelFontWeight": "bold", "labelFontSize": 25, "labelColor": "#262626",
      "titleFont": "Liberation Sans", "titleFontWeight": "bold", "titleFontSize": 29, "titleColor": "#262626",
      "tickColor": "#262626", "tickSize": -5, "tickWidth": 1, "titlePadding": 10,
      "labelFlush": false, "labelOverlap": false
    },
    "axisX": {"labelPadding": 19, "titlePadding": 7},
    "axisY": {"labelPadding": 15},
    "legend": {
      "strokeColor": "#262626", "fillColor": "white", "padding": 4, "cornerRadius": 0,
      "labelFont": "Liberation Sans", "labelFontWeight": "bold", "labelFontSize": 23, "labelColor": "#000000",
      "symbolType": "M-0.615,0H4.46", "symbolSize": 676, "symbolStrokeWidth": 5, "rowPadding": 4, "labelOffset": 48
    }
  }
}
